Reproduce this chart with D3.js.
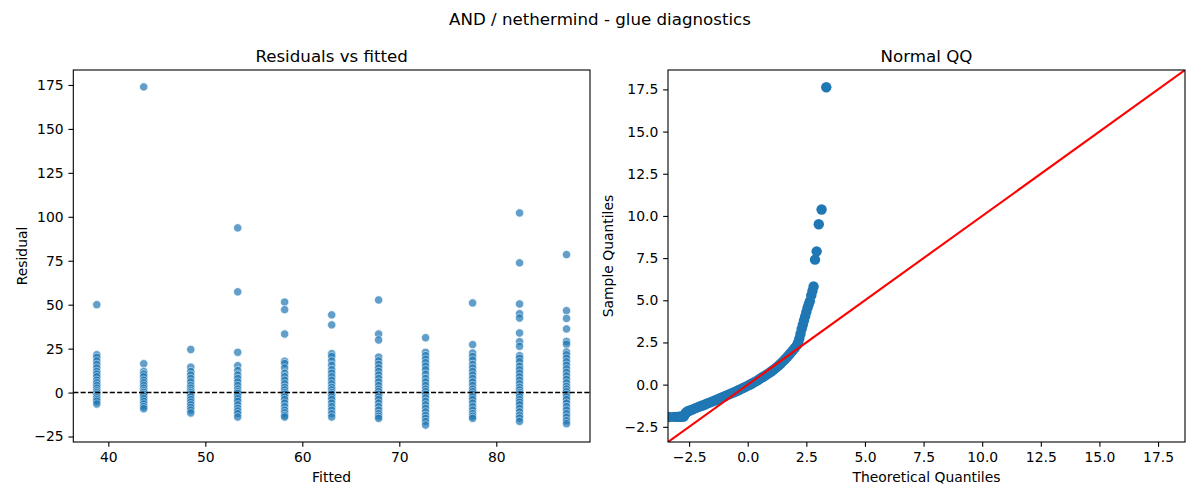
<!DOCTYPE html>
<html>
<head>
<meta charset="utf-8">
<script src="https://cdn.jsdelivr.net/npm/d3@7"></script>
<style>
  body { margin: 0; background: #fff; }
  text { font-family: "DejaVu Sans", sans-serif; fill: #000; }
</style>
</head>
<body>
<script>
const width = 1200;
const height = 500;

// fitted value of each group, left to right
const fitted = [38.81, 43.65, 48.50, 53.34, 58.18, 63.03, 67.87, 72.71, 77.56, 82.40, 87.24];

// residuals (same order as fitted)
const residuals = [
  [50.0, 21.5, 20, 18, 16, 14, 12, 10.5, 9, 7, 5.5, 4, 2.5, 1, 0, -1, -2, -3, -4, -5, -6.5],
  [173.9, 16.4, 12, 10.5, 9, 7, 5.5, 4, 2.5, 1, 0, -1, -2, -3.5, -5, -6.5, -8, -9.2],
  [24.5, 14.5, 12, 10, 8, 6, 4, 2.5, 1, 0, -1, -2.5, -4, -5.5, -7, -8.5, -10, -11.6],
  [93.7, 57.3, 22.9, 15.3, 12.5, 10, 8, 6, 4, 2, 0.5, -0.5, -2, -3.5, -5, -7, -9, -10.5, -12, -13.9],
  [51.5, 47.2, 33.3, 17.8, 16.5, 14, 11, 9, 7, 5, 3, 1.5, 0, -1, -2.5, -4, -6, -8, -10, -11.5, -13, -13.9],
  [44.2, 38.5, 22.1, 20.5, 18, 15.5, 13, 11, 9, 7, 5, 3, 1.5, 0, -1, -2.5, -4, -6, -8, -10, -12, -13.9],
  [52.7, 33.3, 29.9, 20.2, 18, 16, 14, 12, 10, 8, 6, 4, 2, 0.5, -1, -2.5, -4, -6, -8, -10, -12, -13.5, -14.7],
  [31.2, 22.9, 21, 19, 17, 15, 13, 10.5, 8, 6, 4, 2, 0.5, -1, -3, -5, -7, -9, -11, -13, -14.7, -16.5, -18.5],
  [51.0, 27.3, 22.5, 20.5, 18.5, 16, 14, 12, 10, 8, 6, 4, 2, 0.5, -1, -2.5, -4, -6, -8, -10, -12, -13.5, -14.7],
  [102.2, 73.8, 50.4, 44.9, 42.4, 33.9, 29.0, 26.3, 21.0, 19.5, 17.5, 15, 13, 11, 9, 7, 5, 3, 1.5, 0, -1, -2.5, -4, -5.5, -7, -9, -11, -13, -14.5, -16.4],
  [78.5, 46.6, 42.2, 36.2, 29.1, 27.5, 23.1, 21.5, 19.5, 17.5, 15.5, 13.5, 11.5, 9.5, 7.5, 5.5, 3.5, 2, 0.5, -1, -2.5, -4, -6, -8, -10, -12, -14, -16, -17.7]
];

// normal QQ: theoretical quantile and standardised sample quantile
const qqTheoretical = [-3.35, -3.15, -3.03, -2.94, -2.87, -2.81, -2.76, -2.72, -2.68, -2.64, -2.60, -2.55,
  -2.5, -2.4, -2.3, -2.2, -2.1, -2.0, -1.9, -1.8, -1.7, -1.6, -1.5, -1.4, -1.3, -1.2, -1.1, -1.0,
  -0.9, -0.8, -0.7, -0.6, -0.5, -0.4, -0.3, -0.2, -0.1, 0.0, 0.1, 0.2, 0.3, 0.4, 0.5, 0.6, 0.7,
  0.8, 0.9, 1.0, 1.1, 1.2, 1.3, 1.4, 1.5, 1.6, 1.7, 1.8, 1.9, 2.0, 2.1, 2.15, 2.2, 2.25, 2.3,
  2.35, 2.4, 2.45, 2.5, 2.55, 2.6, 2.65, 2.71, 2.76, 2.81, 2.87, 2.94, 3.03, 3.15, 3.35];
const qqSample = [-1.92, -1.91, -1.91, -1.90, -1.90, -1.90, -1.89, -1.88, -1.75, -1.68, -1.62, -1.58,
  -1.55, -1.50, -1.44, -1.38, -1.32, -1.27, -1.22, -1.16, -1.10, -1.05, -0.99, -0.94, -0.88, -0.82, -0.76, -0.70,
  -0.64, -0.58, -0.52, -0.46, -0.40, -0.33, -0.27, -0.20, -0.13, -0.06, 0.01, 0.08, 0.16, 0.24, 0.33, 0.42, 0.50,
  0.59, 0.68, 0.78, 0.88, 0.99, 1.11, 1.24, 1.38, 1.52, 1.67, 1.83, 1.99, 2.16, 2.34, 2.50, 2.72, 3.00, 3.30,
  3.55, 3.80, 4.05, 4.30, 4.55, 4.75, 4.95, 5.29, 5.55, 5.82, 7.41, 7.90, 9.51, 10.38, 17.63];

const qqLimits = [-3.4, 18.65];

const residTicks = [-25, 0, 25, 50, 75, 100, 125, 150, 175];
const fittedTicks = [40, 50, 60, 70, 80];
const qqTicks = [-2.5, 0, 2.5, 5, 7.5, 10, 12.5, 15, 17.5];

const BLUE = "#1f77b4";
const TICK = 4.86;
const LABEL_SIZE = "13.9px";
const TITLE_SIZE = "16.67px";

const left = { x0: 73.3, x1: 590, y0: 70, y1: 442 };
const right = { x0: 668, x1: 1185, y0: 70, y1: 442 };

const svg = d3.select("body")
  .append("svg")
  .attr("width", width)
  .attr("height", height);

function padded(values) {
  const [a, b] = d3.extent(values);
  const p = (b - a) * 0.05;
  return [a - p, b + p];
}

svg.append("text")
  .attr("x", width / 2)
  .attr("y", 25)
  .attr("text-anchor", "middle")
  .attr("font-size", TITLE_SIZE)
  .text("AND / nethermind - glue diagnostics");

function clip(id, box) {
  svg.append("clipPath").attr("id", id)
    .append("rect")
    .attr("x", box.x0).attr("y", box.y0)
    .attr("width", box.x1 - box.x0).attr("height", box.y1 - box.y0);
}

function frame(box) {
  svg.append("rect")
    .attr("x", box.x0).attr("y", box.y0)
    .attr("width", box.x1 - box.x0).attr("height", box.y1 - box.y0)
    .attr("fill", "none")
    .attr("stroke", "#000")
    .attr("stroke-width", 1.1);
}

function axes(box, x, y, xTicks, yTicks, fmt) {
  const gx = svg.append("g")
    .attr("transform", "translate(0," + box.y1 + ")")
    .call(d3.axisBottom(x).tickValues(xTicks).tickFormat(fmt).tickSize(TICK).tickPadding(4.86));
  const gy = svg.append("g")
    .attr("transform", "translate(" + box.x0 + ",0)")
    .call(d3.axisLeft(y).tickValues(yTicks).tickFormat(fmt).tickSize(TICK).tickPadding(4.86));
  [gx, gy].forEach(function (g) {
    g.select(".domain").remove();
    g.selectAll("line").attr("stroke", "#000").attr("stroke-width", 1.1);
    g.selectAll("text")
      .attr("font-size", LABEL_SIZE)
      .attr("font-family", "DejaVu Sans, sans-serif")
      .attr("fill", "#000");
  });
}

function labels(box, title, xLabel, yLabel, yLabelX) {
  const cx = (box.x0 + box.x1) / 2;
  const cy = (box.y0 + box.y1) / 2;
  svg.append("text")
    .attr("x", cx).attr("y", 62)
    .attr("text-anchor", "middle")
    .attr("font-size", TITLE_SIZE)
    .text(title);
  svg.append("text")
    .attr("x", cx).attr("y", 482)
    .attr("text-anchor", "middle")
    .attr("font-size", LABEL_SIZE)
    .text(xLabel);
  svg.append("text")
    .attr("transform", "translate(" + yLabelX + "," + cy + ") rotate(-90)")
    .attr("text-anchor", "middle")
    .attr("font-size", LABEL_SIZE)
    .text(yLabel);
}

// ---- Residuals vs fitted ----
const points = [];
fitted.forEach(function (f, i) {
  residuals[i].forEach(function (r) { points.push({ f: f, r: r }); });
});

const xL = d3.scaleLinear().domain(padded(fitted)).range([left.x0, left.x1]);
const yL = d3.scaleLinear().domain(padded(points.map(function (d) { return d.r; }))).range([left.y1, left.y0]);

clip("clipL", left);
const gL = svg.append("g").attr("clip-path", "url(#clipL)");

gL.selectAll("circle")
  .data(points)
  .enter()
  .append("circle")
  .attr("cx", function (d) { return xL(d.f); })
  .attr("cy", function (d) { return yL(d.r); })
  .attr("r", 4.17)
  .attr("fill", BLUE)
  .attr("stroke", "#fff")
  .attr("stroke-width", 0.7)
  .attr("opacity", 0.7);

gL.append("line")
  .attr("x1", left.x0).attr("x2", left.x1)
  .attr("y1", yL(0)).attr("y2", yL(0))
  .attr("stroke", "#000")
  .attr("stroke-width", 1.4)
  .attr("stroke-dasharray", "5.1,2.2");

frame(left);
axes(left, xL, yL, fittedTicks, residTicks, d3.format("d"));
labels(left, "Residuals vs fitted", "Fitted", "Residual", 26.5);

// ---- Normal QQ ----
const qq = qqTheoretical.map(function (t, i) { return { t: t, s: qqSample[i] }; });

const xR = d3.scaleLinear().domain(qqLimits).range([right.x0, right.x1]);
const yR = d3.scaleLinear().domain(qqLimits).range([right.y1, right.y0]);

clip("clipR", right);
const gR = svg.append("g").attr("clip-path", "url(#clipR)");

gR.selectAll("circle")
  .data(qq)
  .enter()
  .append("circle")
  .attr("cx", function (d) { return xR(d.t); })
  .attr("cy", function (d) { return yR(d.s); })
  .attr("r", 5.2)
  .attr("fill", BLUE);

gR.append("line")
  .attr("x1", xR(qqLimits[0])).attr("y1", yR(qqLimits[0]))
  .attr("x2", xR(qqLimits[1])).attr("y2", yR(qqLimits[1]))
  .attr("stroke", "red")
  .attr("stroke-width", 2.08);

frame(right);
axes(right, xR, yR, qqTicks, qqTicks, d3.format(".1f"));
labels(right, "Normal QQ", "Theoretical Quantiles", "Sample Quantiles", 613);
</script>
</body>
</html>
